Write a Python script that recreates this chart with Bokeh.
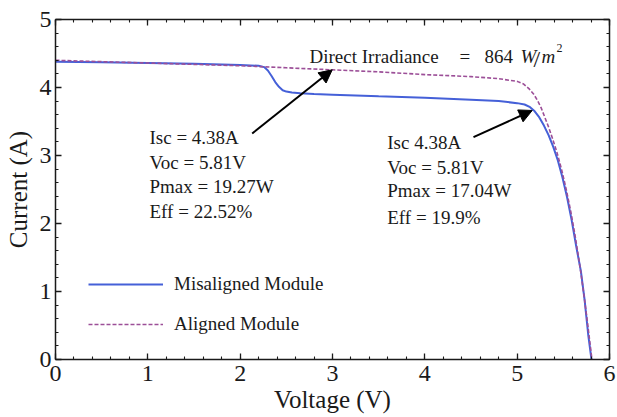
from bokeh.plotting import figure
from bokeh.models import (Range1d, LinearAxis, SingleIntervalTicker, Label, Arrow,
                          NormalHead, Legend, LegendItem, CustomJSTickFormatter)
from bokeh.embed import file_html
from bokeh.resources import INLINE

# ---------------- data ----------------
V_mis = [0, 0.5, 1.0, 1.5, 2.0, 2.2, 2.26, 2.3, 2.34, 2.38, 2.42, 2.46, 2.5, 2.56, 2.65,
         2.8, 3.0, 3.5, 4.0, 4.5, 4.8, 5.0, 5.08, 5.14, 5.19, 5.24, 5.29, 5.34, 5.39,
         5.44, 5.49, 5.54, 5.59, 5.64, 5.69, 5.73, 5.77, 5.805]
I_mis = [4.38, 4.37, 4.36, 4.35, 4.33, 4.32, 4.30, 4.25, 4.17, 4.08, 4.01, 3.96, 3.94,
         3.925, 3.915, 3.905, 3.895, 3.87, 3.85, 3.82, 3.80, 3.77, 3.75, 3.71, 3.65,
         3.56, 3.44, 3.30, 3.13, 2.93, 2.68, 2.39, 2.05, 1.66, 1.30, 0.88, 0.36, 0]

V_al = [0, 0.5, 1.0, 1.5, 2.0, 2.5, 3.0, 3.5, 4.0, 4.5, 4.8, 5.0, 5.07, 5.13, 5.18,
        5.22, 5.26, 5.30, 5.34, 5.38, 5.43, 5.48, 5.53, 5.58, 5.63, 5.68, 5.72, 5.76, 5.81]
I_al = [4.40, 4.38, 4.36, 4.34, 4.32, 4.29, 4.26, 4.23, 4.19, 4.16, 4.13, 4.09, 4.05,
        3.98, 3.90, 3.81, 3.70, 3.56, 3.42, 3.26, 3.05, 2.80, 2.51, 2.18, 1.80, 1.37,
        0.98, 0.56, 0]

series_labels = ["Misaligned Module", "Aligned Module"]
x_title = "Voltage (V)"
y_title = "Current (A)"
note_aligned = ["Isc = 4.38A", "Voc = 5.81V", "Pmax = 19.27W", "Eff = 22.52%"]
note_misaligned = ["Isc 4.38A", "Voc = 5.81V", "Pmax = 17.04W", "Eff = 19.9%"]

FONT = "Liberation Serif"
INK = "#1a1a1a"

p = figure(width=617, height=417, output_backend="svg", toolbar_location=None,
           x_range=Range1d(0, 6), y_range=Range1d(0, 5),
           min_border_left=55, min_border_right=8, min_border_top=19, min_border_bottom=58,
           x_axis_location=None, y_axis_location=None)
p.outline_line_color = None
p.xgrid.visible = False
p.ygrid.visible = False
p.background_fill_color = "white"
p.border_fill_color = "white"


def style_axis(ax, labels=True):
    ax.ticker = SingleIntervalTicker(interval=1, num_minor_ticks=5)
    ax.axis_line_color = INK
    ax.axis_line_width = 1.5
    ax.major_tick_in = 6
    ax.major_tick_out = 0
    ax.minor_tick_in = 3
    ax.minor_tick_out = 0
    ax.major_tick_line_color = INK
    ax.minor_tick_line_color = INK
    ax.major_tick_line_width = 1.3
    ax.minor_tick_line_width = 1.1
    if labels:
        ax.major_label_text_font = FONT
        ax.major_label_text_font_size = "24px"
        ax.major_label_text_color = INK
        ax.major_label_standoff = 3
        ax.axis_label_text_font = FONT
        ax.axis_label_text_font_size = "25px"
        ax.axis_label_text_font_style = "normal"
        ax.axis_label_text_color = INK
    else:
        ax.formatter = CustomJSTickFormatter(code="return ''")
        ax.major_label_standoff = 0
        ax.axis_label = None


xax = LinearAxis(axis_label=x_title)
style_axis(xax)
xax.major_label_standoff = 6
xax.axis_label_standoff = 2
p.add_layout(xax, "below")

yax = LinearAxis(axis_label=y_title)
style_axis(yax)
yax.major_label_standoff = 4
yax.axis_label_standoff = 5
p.add_layout(yax, "left")

for loc in ("above", "right"):
    ax = LinearAxis()
    style_axis(ax, False)
    p.add_layout(ax, loc)

r_mis = p.line(V_mis, I_mis, line_color="#4560d8", line_width=2)
r_al = p.line(V_al, I_al, line_color="#9c4f98", line_width=1.6, line_dash="4 2")

legend = Legend(items=[LegendItem(label=series_labels[0], renderers=[r_mis]),
                       LegendItem(label=series_labels[1], renderers=[r_al])],
                location=(33, 24), orientation="vertical",
                glyph_width=75, glyph_height=20, label_height=20, spacing=18,
                label_standoff=11, padding=0, margin=0,
                label_text_font=FONT, label_text_font_size="19px", label_text_color=INK,
                border_line_alpha=0, background_fill_alpha=0)
p.add_layout(legend)

# irradiance note
irr = [("Direct Irradiance", 2.751, 4.456, "normal", "19px"),
       ("=", 4.376, 4.456, "normal", "19px"),
       ("864", 4.646, 4.456, "normal", "19px"),
       ("W", 5.036, 4.456, "italic", "19px"),
       ("/", 5.177, 4.42, "normal", "24px"),
       ("m", 5.264, 4.456, "italic", "19px"),
       ("2", 5.426, 4.574, "normal", "12px")]
for t, x, y, st, fs in irr:
    p.add_layout(Label(x=x, y=y, text=t, text_font=FONT, text_font_size=fs,
                       text_font_style=st, text_color=INK, text_baseline="alphabetic"))

# value notes
for t, y in zip(note_aligned, [3.269, 2.901, 2.544, 2.176]):
    p.add_layout(Label(x=1.018, y=y, text=t, text_font=FONT, text_font_size="19px",
                       text_color=INK, text_baseline="middle"))
for t, y in zip(note_misaligned, [3.196, 2.828, 2.485, 2.093]):
    p.add_layout(Label(x=3.593, y=y, text=t, text_font=FONT, text_font_size="19px",
                       text_color=INK, text_baseline="middle"))

# arrows
for xs, ys, xe, ye in ((2.130, 3.324, 2.997, 4.260), (4.527, 3.269, 5.163, 3.662)):
    p.add_layout(Arrow(x_start=xs, y_start=ys, x_end=xe, y_end=ye, line_color="black",
                       line_width=2,
                       end=NormalHead(size=13, fill_color="black", line_color="black")))

open("out.html", "w").write(file_html(p, INLINE))
